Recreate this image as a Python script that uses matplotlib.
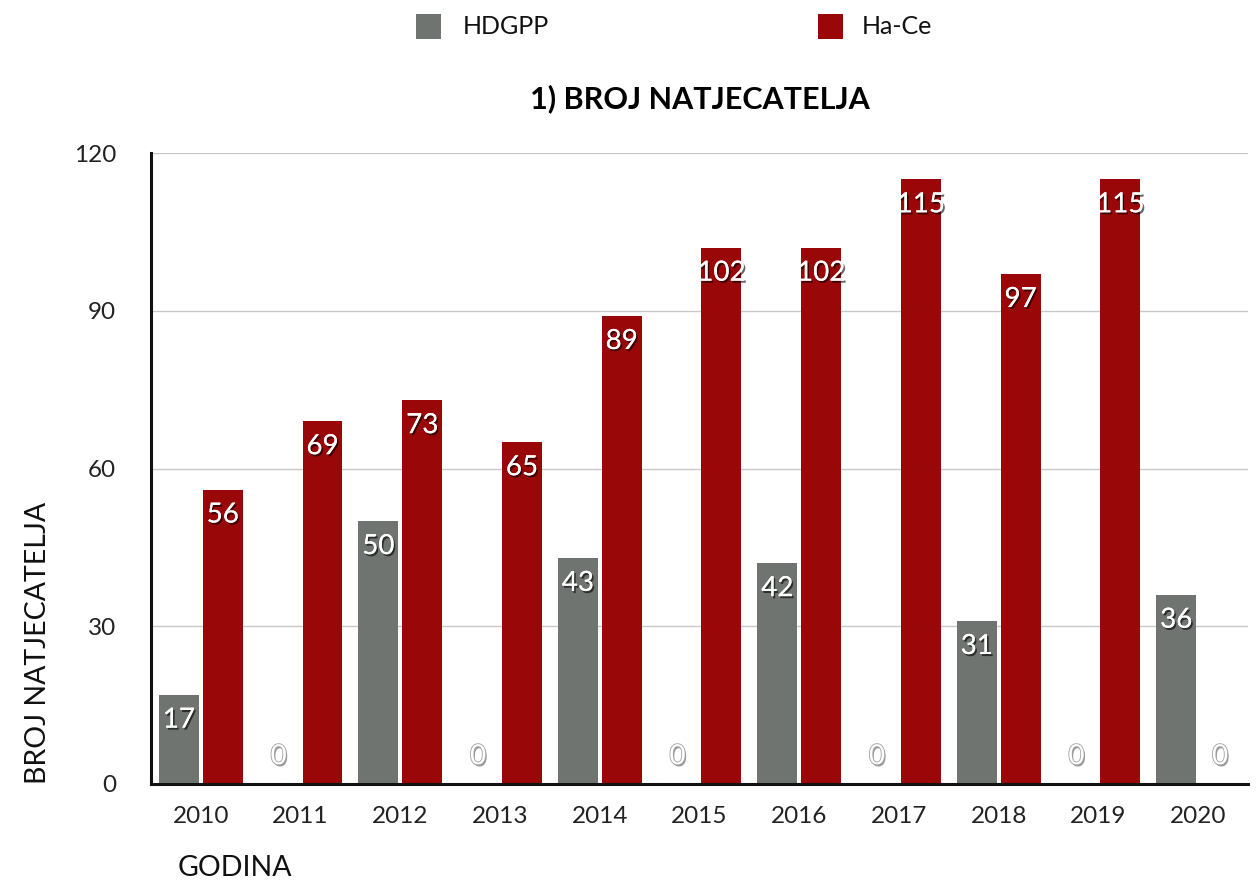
import matplotlib
matplotlib.use("Agg")
import matplotlib.pyplot as plt
import matplotlib.patheffects as pe
from matplotlib.patches import Rectangle
import numpy as np

years = ["2010", "2011", "2012", "2013", "2014", "2015", "2016", "2017", "2018", "2019", "2020"]
hdgpp = [17, 0, 50, 0, 43, 0, 42, 0, 31, 0, 36]
hace = [56, 69, 73, 65, 89, 102, 102, 115, 97, 115, 0]
series_names = ["HDGPP", "Ha-Ce"]
colors = ["#6f7471", "#990708"]

plt.rcParams['font.family'] = ['Lato', 'DejaVu Sans']

W, H = 1258, 881
fig = plt.figure(figsize=(W / 100, H / 100), dpi=100)
ax = fig.add_axes([151 / W, 1 - 784 / H, (1248 - 151) / W, (784 - 153) / H])

x = np.arange(len(years))
bw = 0.40
off = 0.22
ax.bar(x - off, hdgpp, bw, color=colors[0], zorder=3)
ax.bar(x + off, hace, bw, color=colors[1], zorder=3)

shadow = [pe.withSimplePatchShadow(offset=(1.2, -1.5), shadow_rgbFace='black', alpha=0.6), pe.Normal()]
zero_fx = [pe.withSimplePatchShadow(offset=(1, -1.5), shadow_rgbFace='#555555', alpha=0.6),
           pe.Stroke(linewidth=1.2, foreground='#a0a0a0'), pe.Normal()]

for xs, vals in ((x - off, hdgpp), (x + off, hace)):
    for xi, v in zip(xs, vals):
        if v == 0:
            ax.annotate(str(v), (xi, 0), xytext=(0, 20), textcoords='offset points',
                        ha='center', va='center', color='white', fontsize=20,
                        path_effects=zero_fx, zorder=5)
        else:
            ax.annotate(str(v), (xi, v), xytext=(0, -18), textcoords='offset points',
                        ha='center', va='center', color='white', fontsize=20,
                        path_effects=shadow, zorder=5)

ax.set_xlim(-0.5, len(years) - 0.5)
ax.set_ylim(0, 120)
ax.set_yticks([0, 30, 60, 90, 120])
ax.set_xticks(x)
ax.set_xticklabels(years)
ax.tick_params(axis='both', length=0, labelsize=17.5, colors='#222222')
ax.tick_params(axis='x', pad=16)
ax.tick_params(axis='y', pad=25)
ax.grid(axis='y', color='#c8c8c8', linewidth=1, zorder=0)
for s in ['top', 'right']:
    ax.spines[s].set_visible(False)
for s in ['left', 'bottom']:
    ax.spines[s].set_linewidth(2.2)
    ax.spines[s].set_color('#111111')
    ax.spines[s].set_zorder(4)

ax.set_title("1) BROJ NATJECATELJA", fontsize=22, fontweight='bold', pad=32)

fig.text(38 / W, 1 - 784 / H, "BROJ NATJECATELJA", rotation=90, ha='center', va='bottom',
         fontsize=20.5, color='#111111')
fig.text(178 / W, 1 - 868 / H, "GODINA", ha='left', va='center', fontsize=20.5, color='#111111')

# legend
for (lx, tx), name, c in zip(((416, 463), (818, 862)), series_names, colors):
    fig.add_artist(Rectangle((lx / W, 1 - 39 / H), 25 / W, 25 / H, transform=fig.transFigure,
                             facecolor=c, edgecolor='none'))
    fig.text(tx / W, 1 - 26 / H, name, ha='left', va='center', fontsize=18, color='#111111')

fig.savefig("out.png", dpi=100)
